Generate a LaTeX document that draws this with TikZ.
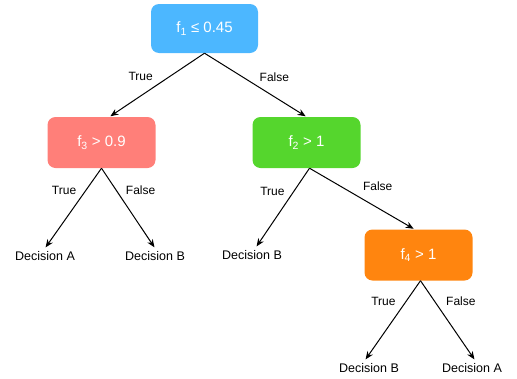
\documentclass[tikz,border=0pt]{standalone}
\usepackage{fontspec}
\setmainfont{Liberation Sans}
\usepackage{xcolor}
\usepackage{tikz}
\usetikzlibrary{arrows.meta}

\definecolor{boxblue}{HTML}{4CB7FF}
\definecolor{boxred}{HTML}{FF7F79}
\definecolor{boxgreen}{HTML}{55D62D}
\definecolor{boxorange}{HTML}{FF850F}

\begin{document}
\begin{tikzpicture}[x=1pt,y=-1pt,
    test/.style={rounded corners=8pt, text=white, minimum width=108pt, minimum height=51pt,
                 font=\fontsize{15}{18}\selectfont},
    leaf/.style={text=black, inner sep=3pt, font=\fontsize{12.5}{15}\selectfont},
    lbl/.style={inner sep=0pt, font=\fontsize{12}{14}\selectfont},
    edge/.style={->, >={Stealth[length=8pt,width=6.5pt]}, line width=1pt, shorten >=1pt}]
    \useasboundingbox (0,0) rectangle (517,378);
                    \node[test, fill=boxblue, minimum width=107pt, minimum height=49pt] (F1) at (204.5,28.5) {f\textsubscript{1} ≤ 0.45};
                    \node[test, fill=boxred] (F3) at (101.5,142.5) {f\textsubscript{3} > 0.9};
                    \node[test, fill=boxgreen] (F2) at (306.5,142.5) {f\textsubscript{2} > 1};
                    \node[test, fill=boxorange] (F4) at (418.5,255) {f\textsubscript{4} > 1};
                    \node[leaf] (DA1) at (45,256) {Decision A};
                    \node[leaf] (DB1) at (155,256) {Decision B};
                    \node[leaf] (DB2) at (252,255) {Decision B};
                    \node[leaf] (DB3) at (369,368) {Decision B};
                    \node[leaf] (DA2) at (472,368) {Decision A};

                    \draw[edge] (F1.south) -- ([xshift=8pt]F3.north) node[lbl, pos=0.36, left=17pt] {True};
                    \draw[edge] (F1.south) -- (F2.north) node[lbl, pos=0.37, right=17pt] {False};
                    \draw[edge] (F3.south) -- (DA1.north) node[lbl, pos=0.28, left=9pt] {True};
                    \draw[edge] (F3.south) -- (DB1.north) node[lbl, pos=0.28, right=9pt] {False};
                    \draw[edge] ([xshift=3pt]F2.south) -- ([xshift=4pt]DB2.north) node[lbl, pos=0.29, left=9pt] {True};
                    \draw[edge] ([xshift=3pt]F2.south) -- ([xshift=-4pt]F4.north) node[lbl, pos=0.65, above=17pt] {False};
                    \draw[edge] ([xshift=2pt]F4.south) -- ([xshift=-4pt]DB3.north) node[lbl, pos=0.26, left=10pt] {True};
                    \draw[edge] ([xshift=2pt]F4.south) -- ([xshift=3pt]DA2.north) node[lbl, pos=0.26, right=11pt] {False};
                 \end{tikzpicture}
\end{document}
